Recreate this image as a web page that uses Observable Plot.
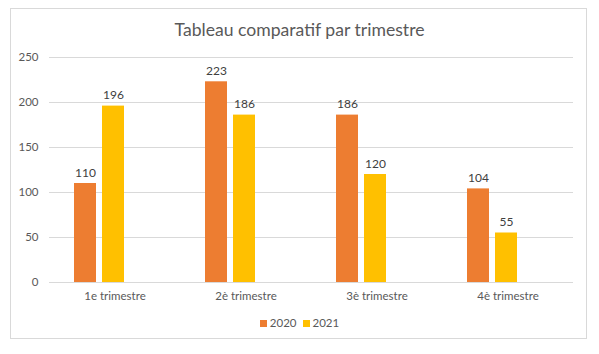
<!DOCTYPE html>
<html>
<head>
<meta charset="utf-8">
<script src="https://cdn.jsdelivr.net/npm/d3@7"></script>
<script src="https://cdn.jsdelivr.net/npm/@observablehq/plot@0.6"></script>
<style>
  body { margin: 0; background: #fff; }
  #wrap { position: relative; width: 599px; height: 354px; font-family: Lato, "Open Sans", sans-serif; }
  #frame { position: absolute; left: 10px; top: 8px; width: 577px; height: 331px; border: 1px solid #d9d9d9; box-sizing: border-box; }
  #title { position: absolute; left: 0; top: 19px; width: 599px; text-align: center; font-size: 17.6px; color: #595959; }
  #chart { position: absolute; left: 0; top: 0; }
  #legend { position: absolute; left: 0; top: 316px; width: 599px; text-align: center; font-size: 11.5px; color: #595959; }
  .sw { display: inline-block; width: 7px; height: 7px; margin-right: 3px; vertical-align: 0px; }
  .item { margin: 0 3px; }
</style>
</head>
<body>
<div id="wrap">
  <div id="frame"></div>
  <div id="chart"></div>
  <div id="title"></div>
  <div id="legend"></div>
</div>
<script>
const title = "Tableau comparatif par trimestre";
const categories = ["1e trimestre", "2è trimestre", "3è trimestre", "4è trimestre"];
const series = ["2020", "2021"];
const values2020 = [110, 223, 186, 104];
const values2021 = [196, 186, 120, 55];
const colors = ["#ED7D31", "#FFC000"];
const yTicks = [0, 50, 100, 150, 200, 250];

const rows = categories.flatMap((c, i) => [
  {cat: c, year: series[0], v: values2020[i]},
  {cat: c, year: series[1], v: values2021[i]}
]);

document.getElementById("title").textContent = title;
const leg = document.getElementById("legend");
series.forEach((s, i) => {
  const span = document.createElement("span");
  span.className = "item";
  span.innerHTML = `<span class="sw" style="background:${colors[i]}"></span>${s}`;
  leg.appendChild(span);
});

const chart = Plot.plot({
  width: 599,
  height: 354,
  marginLeft: 48,
  marginRight: 26,
  marginTop: 57,
  marginBottom: 72,
  style: {fontFamily: "Lato, 'Open Sans', sans-serif", fontSize: "11.5px", color: "#595959", background: "transparent"},
  fx: {domain: categories, padding: 0, axis: "bottom", tickSize: 0, tickPadding: 9, label: null},
  x: {domain: series, paddingInner: 0.207, paddingOuter: 1.366, align: 0.315, axis: null},
  y: {domain: [0, 250], axis: null},
  color: {domain: series, range: colors},
  marks: [
    Plot.gridY(yTicks, {stroke: "#d9d9d9", strokeOpacity: 1}),
    Plot.axisY(yTicks, {tickSize: 0, tickPadding: 11, label: null, fill: "#595959"}),
    Plot.barY(rows, {fx: "cat", x: "year", y: "v", fill: "year"}),
    Plot.text(rows, {fx: "cat", x: "year", y: "v", text: d => String(d.v), lineAnchor: "bottom", dy: -7, fill: "#404040", fontSize: 12}),
    Plot.ruleY([0], {stroke: "#d9d9d9"})
  ]
});
document.getElementById("chart").appendChild(chart);
</script>
</body>
</html>
